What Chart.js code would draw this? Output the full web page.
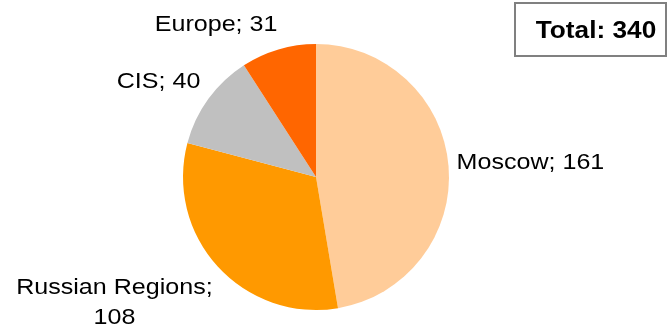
<!DOCTYPE html>
<html>
<head>
<meta charset="utf-8">
<script src="https://cdn.jsdelivr.net/npm/chart.js@4"></script>
<style>
    html, body { margin: 0; padding: 0; background: #fff; }
    canvas { display: block; }
</style>
</head>
<body>
<canvas id="myChart" width="668" height="331"></canvas>
<script>
const regions = ["Moscow", "Russian Regions", "CIS", "Europe"];
const counts = [161, 108, 40, 31];
const sliceColors = ["#FFCC99", "#FF9900", "#C0C0C0", "#FF6600"];

// label nudges from the outer midpoint of each slice: [dx, dy, align]
const labelNudge = [
    [8, 3, "left"],
    [-5, 27, "right"],
    [-8, -11, "right"],
    [-1, -18, "right"],
];

const totalCount = counts.reduce((a, b) => a + b, 0);
const textStretch = 1.14;

function stretchedText(ctx, text, x, y, align) {
    ctx.save();
    ctx.translate(x, y);
    ctx.scale(textStretch, 1);
    ctx.textAlign = align;
    ctx.fillText(text, 0, 0);
    ctx.restore();
}

const sliceLabels = {
    id: "sliceLabels",
    afterDraw(chart) {
        const ctx = chart.ctx;
        const arcs = chart.getDatasetMeta(0).data;
        ctx.save();
        ctx.fillStyle = "#000";
        ctx.font = "22px 'Liberation Sans', Arial, sans-serif";
        ctx.textBaseline = "alphabetic";

        arcs.forEach((arc, i) => {
            const { x, y, startAngle, endAngle, outerRadius } = arc.getProps(
                ["x", "y", "startAngle", "endAngle", "outerRadius"],
                true
            );
            const mid = (startAngle + endAngle) / 2;
            const px = x + Math.cos(mid) * outerRadius + labelNudge[i][0];
            const py = y + Math.sin(mid) * outerRadius + labelNudge[i][1];
            const align = labelNudge[i][2];
            const name = regions[i];
            const value = counts[i];

            if (name === "Russian Regions") {
                // two-line label, second line centred under the first
                const first = `${name};`;
                const w = ctx.measureText(first).width * textStretch;
                stretchedText(ctx, first, px, py, align);
                stretchedText(ctx, `${value}`, px - w / 2, py + 30, "center");
            } else {
                stretchedText(ctx, `${name}; ${value}`, px, py, align);
            }
        });

        // total box
        ctx.strokeStyle = "#808080";
        ctx.lineWidth = 2;
        ctx.strokeRect(515, 3, 151, 53);
        ctx.font = "bold 23px 'Liberation Sans', Arial, sans-serif";
        stretchedText(ctx, `Total: ${totalCount}`, 596, 38, "center");
        ctx.restore();
    },
};

const config = {
    type: "pie",
    data: {
        labels: regions,
        datasets: [
            {
                data: counts,
                backgroundColor: sliceColors,
                borderWidth: 0,
            },
        ],
    },
    options: {
        responsive: false,
        animation: false,
        layout: {
            padding: { top: 44, bottom: 21, left: 183, right: 219 },
        },
        plugins: {
            legend: { display: false },
            tooltip: { enabled: false },
        },
    },
    plugins: [sliceLabels],
};

const myChart = new Chart(document.getElementById("myChart"), config);
</script>
</body>
</html>
